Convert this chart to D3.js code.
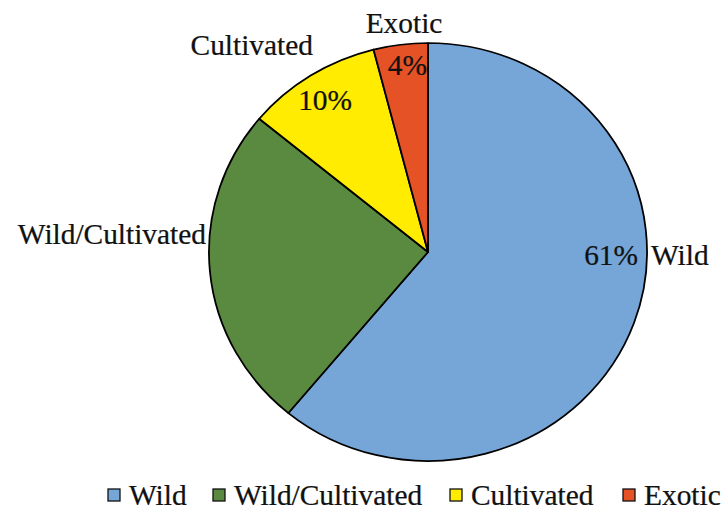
<!DOCTYPE html>
<html>
<head>
<meta charset="utf-8">
<script src="https://cdn.jsdelivr.net/npm/d3@7"></script>
<style>
  html, body { margin: 0; padding: 0; background: #fff; }
  svg { display: block; }
  text { font-family: "Liberation Serif", "Times New Roman", serif; fill: #111; }
</style>
</head>
<body>
<svg id="chart" width="727" height="510"></svg>
<script>
const categories = ["Wild", "Wild/Cultivated", "Cultivated", "Exotic"];
const values = [61, 25, 10, 4];
const colors = ["#75A6D7", "#5A8A40", "#FFEC00", "#E55226"];
const pctLabels = ["61%", "", "10%", "4%"];

const W = 727, H = 510;
const sx = 1.048;           // slight horizontal stretch of the original picture
const cx = 428, cy = 252, r = 209;
const fs = 30;

const svg = d3.select("#chart");
const root = svg.append("g").attr("transform", `scale(${sx},1)`);

const pie = d3.pie().sort(null).value(d => d.v).startAngle(0).endAngle(2 * Math.PI);
const arc = d3.arc().innerRadius(0).outerRadius(r);
const data = categories.map((c, i) => ({ c, v: values[i], col: colors[i], pct: pctLabels[i] }));
const arcs = pie(data);

const pieG = root.append("g").attr("transform", `translate(${cx / sx},${cy})`);
pieG.selectAll("path")
  .data(arcs)
  .join("path")
  .attr("d", arc)
  .attr("fill", d => d.data.col)
  .attr("stroke", "#000")
  .attr("stroke-width", 1.7)
  .attr("stroke-linejoin", "round");

// Slice labels (screen px positions)
const labels = [
  { t: "61%", x: 638, y: 265, a: "end" },
  { t: "Wild", x: 651, y: 265, a: "start" },
  { t: "Wild/Cultivated", x: 206, y: 244, a: "end" },
  { t: "Cultivated", x: 313, y: 55, a: "end" },
  { t: "10%", x: 352, y: 110, a: "end" },
  { t: "Exotic", x: 404, y: 33, a: "middle" },
  { t: "4%", x: 427, y: 75, a: "end" }
];
svg.selectAll("text.lbl")
  .data(labels)
  .join("text")
  .attr("class", "lbl")
  .attr("transform", d => `translate(${d.x},${d.y}) scale(0.98,1)`)
  .attr("text-anchor", d => d.a)
  .attr("font-size", fs)
  .attr("stroke", "#111")
  .attr("stroke-width", 0.25)
  .text(d => d.t);

// Legend
const legX = [108, 213, 450, 623];
const items = svg.append("g").selectAll("g.item")
  .data(data)
  .join("g")
  .attr("class", "item")
  .attr("transform", (d, i) => `translate(${legX[i]},0)`);
items.append("rect")
  .attr("x", 0).attr("y", 489)
  .attr("width", 12).attr("height", 12)
  .attr("fill", d => d.col)
  .attr("stroke", "#111")
  .attr("stroke-width", 1.3);
items.append("text")
  .attr("transform", "translate(21,505) scale(0.98,1)")
  .attr("font-size", fs)
  .attr("stroke", "#111")
  .attr("stroke-width", 0.25)
  .text(d => d.c);
</script>
</body>
</html>
